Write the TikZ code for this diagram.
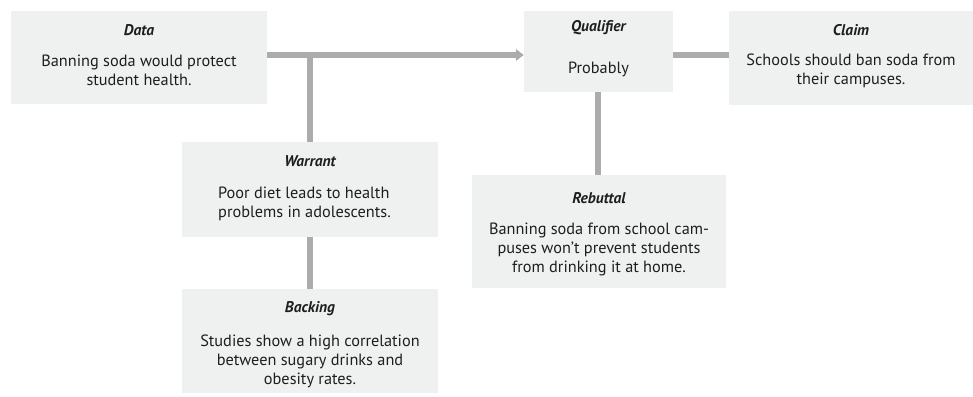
\documentclass[tikz,border=0pt]{standalone}
\usepackage{fontspec}
\setmainfont{PT Sans}
\usetikzlibrary{arrows.meta}
\definecolor{boxfill}{HTML}{EFF1F0}
\definecolor{linkgray}{HTML}{ACACAC}
\definecolor{inkgray}{HTML}{1E1E1E}
\tikzset{
  panel/.style={fill=boxfill, draw=none, inner sep=0pt, anchor=center},
  heading/.style={font=\fontsize{15.5}{18}\selectfont\bfseries\itshape, text=inkgray, inner sep=0pt},
  body/.style={font=\fontsize{16.3}{19}\selectfont, text=inkgray, inner sep=0pt, align=center},
  link/.style={draw=linkgray, line width=6.5pt},
}
\begin{document}
\begin{tikzpicture}[x=1pt, y=-1pt]
\useasboundingbox (0,0) rectangle (973,396);

% boxes
\node[panel, minimum width=256pt, minimum height=93pt] (data) at (139,57.5) {};
\node[panel, minimum width=149pt, minimum height=81pt] (qual) at (598.5,51.5) {};
\node[panel, minimum width=244pt, minimum height=94pt] (claim) at (851,58) {};
\node[panel, minimum width=256pt, minimum height=95pt] (warrant) at (310,189.5) {};
\node[panel, minimum width=256pt, minimum height=104pt] (backing) at (310,341) {};
\node[panel, minimum width=254pt, minimum height=113pt] (rebut) at (599,231.5) {};

% connectors
\coordinate (split) at (310,55);
\draw[link] (data.east |- split) -- (split);
\draw[link, -{Triangle[length=8pt, width=11.5pt]}] (split) -- (qual.west |- split);
\draw[link] (split) -- (warrant.north);
\draw[link] (warrant.south) -- (backing.north);
\draw[link] (qual.east |- 0,55) coordinate (qe) -- (claim.west |- qe);
\draw[link] (qual.south -| 598,0) coordinate (qs) -- (rebut.north -| qs);

% texts
\node[heading] (tdata) at (139,30) {Data};
\node[body] (bdata) at (139,70.5) {Banning soda would protect\\student health.};

\node[heading] (tqual) at (598.5,28) {Qualifier};
\node[body] (bqual) at (598.5,69) {Probably};

\node[heading] (tclaim) at (851,30) {Claim};
\node[body] (bclaim) at (851,70.5) {Schools should ban soda from\\their campuses.};

\node[heading] (twarrant) at (310,161) {Warrant};
\node[body, align=left, anchor=west] (bwarrant) at (218,203.5) {Poor diet leads to health\\problems in adolescents.};

\node[heading] (tbacking) at (310,309) {Backing};
\node[body] (bbacking) at (310,361) {Studies show a high correlation\\between sugary drinks and\\obesity rates.};

\node[heading] (trebut) at (599,198) {Rebuttal};
\node[body] (brebut) at (599,249) {Banning soda from school cam-\\puses won't prevent students\\from drinking it at home.};
\end{tikzpicture}
\end{document}
